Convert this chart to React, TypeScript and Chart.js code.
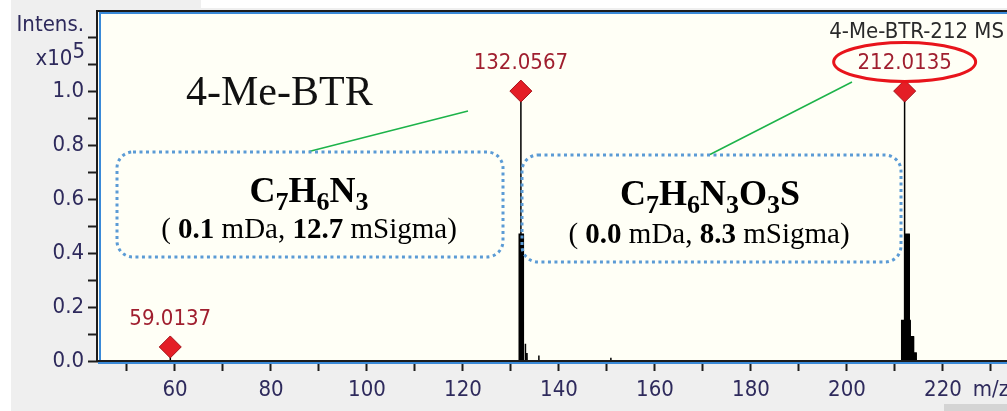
import { useEffect, useRef } from 'react';
import { Chart, registerables } from 'chart.js';

Chart.register(...registerables);

// ---- data ----
const spectrumMz = [43.96, 58.99, 59.0137, 59.04, 131.7, 131.72, 132.04, 132.0567, 132.07, 132.55, 132.57, 132.98, 133.0, 133.02, 133.31, 133.33, 133.35, 135.78, 135.8, 135.82, 150.78, 150.8, 150.82, 211.38, 211.4, 211.95, 211.97, 212.0, 212.0135, 212.03, 212.95, 212.97, 213.15, 213.17, 213.85, 213.87, 214.4, 214.42, 245];
const spectrumIntensity = [0, 0, 0.052, 0, 0, 0.47, 0.47, 1.0, 0.47, 0.47, 0, 0, 0.064, 0, 0, 0.03, 0, 0, 0.02, 0, 0, 0.012, 0, 0, 0.15, 0.15, 0.47, 0.47, 1.0, 0.47, 0.47, 0.15, 0.15, 0.09, 0.09, 0.03, 0.03, 0, 0];

const peakMz = [59.0137, 132.0567, 212.0135];
const peakIntensity = [0.052, 1.0, 1.0];
const peakLabels = ['59.0137', '132.0567', '212.0135'];

const xTickValues = [50, 60, 70, 80, 90, 100, 110, 120, 130, 140, 150, 160, 170, 180, 190, 200, 210, 220, 230];
const xLabelValues = [60, 80, 100, 120, 140, 160, 180, 200, 220];
const xAxisTitle = 'm/z';
const yTickValues = [0, 0.1, 0.2, 0.3, 0.4, 0.5, 0.6, 0.7, 0.8, 0.9, 1.0, 1.1, 1.2];
const yLabelValues = [0, 0.2, 0.4, 0.6, 0.8, 1.0];

const X_MIN = 43.96;
const X_MAX = 240.2;
const PX_PER_MZ = 4.8; // horizontal zoom of the reference view
const Y_MIN = 0;
const Y_MAX = 1.293;

const compoundName = '4-Me-BTR';
const spectrumTitle = '4-Me-BTR-212 MS';
const yTitle = 'Intens.';

const formula1 = [['C', ''], ['7', 'sub'], ['H', ''], ['6', 'sub'], ['N', ''], ['3', 'sub']];
const formula2 = [['C', ''], ['7', 'sub'], ['H', ''], ['6', 'sub'], ['N', ''], ['3', 'sub'], ['O', ''], ['3', 'sub'], ['S', '']];
const detail1 = [['( ', 'r'], ['0.1', 'b'], [' mDa, ', 'r'], ['12.7', 'b'], [' mSigma)', 'r']];
const detail2 = [['( ', 'r'], ['0.0', 'b'], [' mDa, ', 'r'], ['8.3', 'b'], [' mSigma)', 'r']];

const SANS = "'DejaVu Sans Condensed', 'Liberation Sans', sans-serif";
const SERIF = "'Liberation Serif', 'DejaVu Serif', serif";
const TICK_COLOR = '#2e2a5c';
const PEAK_COLOR = '#a01f2f';

function drawRich(ctx: CanvasRenderingContext2D, segs: { text: string; font: string; dy: number }[], cx: number, baseY: number) {
  let total = 0;
  for (const s of segs) {
    ctx.font = s.font;
    total += ctx.measureText(s.text).width;
  }
  let x = cx - total / 2;
  ctx.textAlign = 'left';
  ctx.textBaseline = 'alphabetic';
  for (const s of segs) {
    ctx.font = s.font;
    ctx.fillText(s.text, x, baseY + s.dy);
    x += ctx.measureText(s.text).width;
  }
}

const backgroundPlugin = {
  id: 'bg',
  beforeDraw(chart: any) {
    const { ctx, chartArea, width, height } = chart;
    ctx.save();
    ctx.fillStyle = '#ffffff';
    ctx.fillRect(0, 0, width, height);
    ctx.fillStyle = '#efefef';
    ctx.fillRect(11, 8, width, height);
    ctx.fillRect(11, 0, 190, 8);
    ctx.fillStyle = '#d4d4d4';
    ctx.fillRect(944, 404, 100, 10);
    ctx.fillStyle = '#fffff6';
    ctx.fillRect(chartArea.left, chartArea.top, chartArea.right - chartArea.left, chartArea.bottom - chartArea.top);
    ctx.restore();
  },
};

const framePlugin = {
  id: 'frame',
  afterDatasetsDraw(chart: any) {
    const { ctx, chartArea } = chart;
    const { left, top, right, bottom } = chartArea;
    ctx.save();
    ctx.lineWidth = 2;
    ctx.strokeStyle = '#1c1c1c';
    ctx.beginPath();
    ctx.moveTo(left - 1, bottom);
    ctx.lineTo(left - 1, top - 1);
    ctx.lineTo(right + 5, top - 1);
    ctx.moveTo(left - 2, bottom);
    ctx.lineTo(right + 5, bottom);
    ctx.stroke();
    ctx.strokeStyle = '#3a8ad8';
    ctx.beginPath();
    ctx.moveTo(left + 2, bottom - 1);
    ctx.lineTo(left + 2, top + 1);
    ctx.lineTo(right + 5, top + 1);
    ctx.moveTo(left, bottom + 2);
    ctx.lineTo(right + 5, bottom + 2);
    ctx.stroke();
    ctx.restore();
  },
};

const annotationPlugin = {
  id: 'annotations',
  afterDraw(chart: any) {
    const { ctx } = chart;
    const xs = chart.scales.x;
    const ys = chart.scales.y;
    ctx.save();

    // peak labels
    ctx.font = `22px ${SANS}`;
    ctx.fillStyle = PEAK_COLOR;
    ctx.textAlign = 'center';
    ctx.textBaseline = 'middle';
    peakMz.forEach((mz, i) => {
      const px = xs.getPixelForValue(mz);
      const py = ys.getPixelForValue(peakIntensity[i]);
      ctx.fillText(peakLabels[i], px, py - 28);
    });

    // y title
    ctx.fillStyle = TICK_COLOR;
    ctx.textAlign = 'right';
    ctx.textBaseline = 'alphabetic';
    ctx.font = `22px ${SANS}`;
    ctx.fillText(yTitle, 84, 31);
    ctx.fillText('5', 85, 58);
    const w5 = ctx.measureText('5').width;
    ctx.fillText('x10', 85 - w5, 65);

    // spectrum title
    ctx.fillStyle = '#2a2a2a';
    ctx.font = `22px ${SANS}`;
    ctx.textAlign = 'right';
    ctx.fillText(spectrumTitle, 1004, 38);

    // red ellipse around the 212 label
    const ex = xs.getPixelForValue(peakMz[2]);
    ctx.strokeStyle = '#e8141b';
    ctx.lineWidth = 3;
    ctx.beginPath();
    ctx.ellipse(ex, 62, 71, 19.5, 0, 0, Math.PI * 2);
    ctx.stroke();

    // compound name
    ctx.fillStyle = '#111111';
    ctx.font = `42px ${SERIF}`;
    ctx.textAlign = 'left';
    ctx.fillText(compoundName, 186, 105);

    // green leader lines
    ctx.strokeStyle = '#1db34a';
    ctx.lineWidth = 1.5;
    ctx.beginPath();
    ctx.moveTo(468, 111);
    ctx.lineTo(309, 151.5);
    ctx.moveTo(852, 82);
    ctx.lineTo(710, 154.5);
    ctx.stroke();

    // dotted boxes
    ctx.strokeStyle = '#5b9bd5';
    ctx.lineWidth = 3;
    ctx.setLineDash([3, 3.5]);
    ctx.beginPath();
    ctx.roundRect(117, 152, 386, 105, 16);
    ctx.stroke();
    ctx.beginPath();
    ctx.roundRect(522, 155, 379, 107, 16);
    ctx.stroke();
    ctx.setLineDash([]);

    // formulas
    ctx.fillStyle = '#000000';
    const fSeg = (f: string[][]) => f.map(([t, k]) => ({ text: t, font: k === 'sub' ? `bold 26px ${SERIF}` : `bold 36px ${SERIF}`, dy: k === 'sub' ? 8 : 0 }));
    const dSeg = (f: string[][]) => f.map(([t, k]) => ({ text: t, font: k === 'b' ? `bold 29px ${SERIF}` : `29px ${SERIF}`, dy: 0 }));
    drawRich(ctx, fSeg(formula1), 309, 202);
    drawRich(ctx, dSeg(detail1), 309, 238);
    drawRich(ctx, fSeg(formula2), 710, 205);
    drawRich(ctx, dSeg(detail2), 709, 243);

    ctx.restore();
  },
};

export default function App() {
  const ref = useRef<HTMLCanvasElement>(null);

  useEffect(() => {
    if (!ref.current) return;
    const chart = new Chart(ref.current, {
      type: 'line',
      data: {
        datasets: [
          {
            type: 'scatter',
            label: 'Peaks',
            data: peakMz.map((m, i) => ({ x: m, y: peakIntensity[i] })),
            pointStyle: 'rectRot',
            pointRadius: 11,
            pointBackgroundColor: '#e41e26',
            pointBorderColor: '#a5121a',
            pointBorderWidth: 1,
            showLine: false,
            order: 0,
          } as any,
          {
            type: 'line',
            label: 'Spectrum',
            data: spectrumMz.map((m, i) => ({ x: m, y: spectrumIntensity[i] })),
            borderColor: '#000000',
            backgroundColor: '#000000',
            borderWidth: 1.5,
            pointRadius: 0,
            fill: 'origin',
            tension: 0,
            order: 1,
          },
        ],
      },
      options: {
        animation: false,
        responsive: false,
        devicePixelRatio: 1,
        layout: { padding: { top: 10, left: 0, right: 0, bottom: 0 } },
        plugins: { legend: { display: false }, tooltip: { enabled: false } },
        scales: {
          x: {
            type: 'linear',
            min: X_MIN,
            max: X_MAX,
            afterBuildTicks: (s: any) => {
              s.ticks = xTickValues.map((v) => ({ value: v }));
            },
            afterFit: (s: any) => {
              s.height = 50;
              s.paddingLeft = 0;
              s.paddingRight = 0;
            },
            ticks: {
              autoSkip: false,
              maxRotation: 0,
              padding: 6,
              color: TICK_COLOR,
              font: { family: SANS, size: 22 },
              callback: (v: any) => {
                const n = Number(v);
                if (n === 230) return xAxisTitle;
                return xLabelValues.includes(n) ? String(n) : '';
              },
            },
            grid: { drawOnChartArea: false, drawTicks: true, tickLength: 10, tickColor: '#1c1c1c', tickWidth: 2 },
            border: { display: false },
          },
          y: {
            type: 'linear',
            min: Y_MIN,
            max: Y_MAX,
            afterBuildTicks: (s: any) => {
              s.ticks = yTickValues.map((v) => ({ value: v }));
            },
            afterFit: (s: any) => {
              s.width = 98;
              s.paddingTop = 0;
              s.paddingBottom = 0;
            },
            ticks: {
              autoSkip: false,
              padding: 4,
              color: TICK_COLOR,
              font: { family: SANS, size: 22 },
              callback: (v: any) => {
                const n = Number(v);
                return yLabelValues.some((l) => Math.abs(l - n) < 1e-6) ? n.toFixed(1) : '';
              },
            },
            grid: { drawOnChartArea: false, drawTicks: true, tickLength: 10, tickColor: '#1c1c1c', tickWidth: 2 },
            border: { display: false },
          },
        },
      },
      plugins: [backgroundPlugin, framePlugin, annotationPlugin],
    });
    // keep the reference's horizontal zoom regardless of the final plot width
    const ca = chart.chartArea;
    (chart.options.scales as any).x.max = X_MIN + (ca.right - ca.left) / PX_PER_MZ;
    chart.update();
    return () => chart.destroy();
  }, []);

  return (
    <div style={{ position: 'fixed', left: 0, top: 0, width: 1007, height: 411, overflow: 'hidden', background: '#ffffff' }}>
      <canvas ref={ref} width={1040} height={411} style={{ display: 'block', width: 1040, height: 411 }} />
    </div>
  );
}
